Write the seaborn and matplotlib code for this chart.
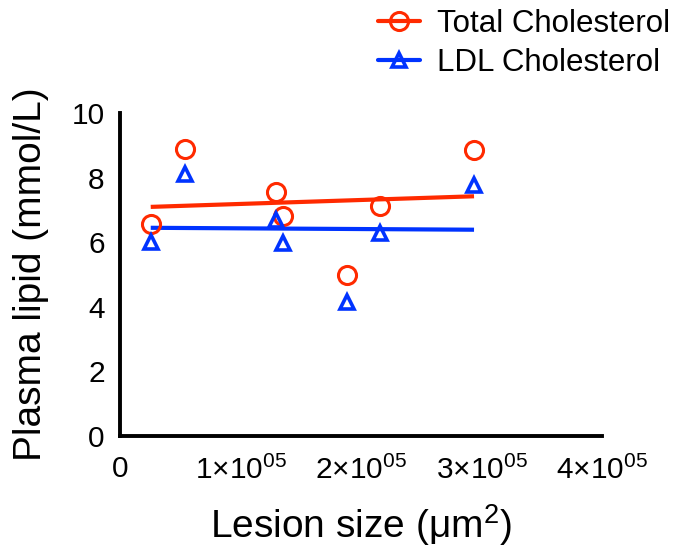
import matplotlib
matplotlib.use("Agg")
import matplotlib.pyplot as plt
import seaborn as sns
import numpy as np
import pandas as pd
from matplotlib.lines import Line2D

# ---- data ----
lesion_size = [25500, 53900, 129200, 135500, 188100, 215800, 293800]
total_chol = [6.57, 8.87, 7.54, 6.80, 4.97, 7.11, 8.85]
ldl_chol = [6.00, 8.10, 6.68, 5.97, 4.14, 6.28, 7.76]
series_names = ["Total Cholesterol", "LDL Cholesterol"]
x_ticks = [0, 100000, 200000, 300000, 400000]
x_tick_labels = ["0", r"$1{\times}10^{05}$", r"$2{\times}10^{05}$", r"$3{\times}10^{05}$", r"$4{\times}10^{05}$"]
y_ticks = [0, 2, 4, 6, 8, 10]
y_tick_labels = ["0", "2", "4", "6", "8", "10"]

df = pd.DataFrame({"x": lesion_size, "total": total_chol, "ldl": ldl_chol})

sns.set_style("white")
plt.rcParams["font.family"] = ["Liberation Sans", "DejaVu Sans"]
plt.rcParams["mathtext.fontset"] = "custom"
plt.rcParams["mathtext.rm"] = "Liberation Sans"
plt.rcParams["mathtext.it"] = "Liberation Sans:italic"
plt.rcParams["mathtext.default"] = "rm"
plt.rcParams["text.color"] = "black"
plt.rcParams["axes.labelcolor"] = "black"

red = "#FF2A00"
blue = "#0033FF"

fig = plt.figure(figsize=(6.75, 5.52), dpi=100)
ax = fig.add_axes([120/675, 1-436/552, 482/675, 323/552])

# regression lines
sns.regplot(data=df, x="x", y="total", ax=ax, scatter=False, ci=None, truncate=True,
            line_kws=dict(color=red, lw=3, solid_capstyle="butt"))
sns.regplot(data=df, x="x", y="ldl", ax=ax, scatter=False, ci=None, truncate=True,
            line_kws=dict(color=blue, lw=3, solid_capstyle="butt"))

# markers
ax.plot(df["x"], df["total"], linestyle="none", marker="o", markersize=13,
        markerfacecolor="none", markeredgecolor=red, markeredgewidth=2.2, clip_on=False, zorder=4)
ax.plot(df["x"], df["ldl"], linestyle="none", marker="^", markersize=10,
        markerfacecolor="none", markeredgecolor=blue, markeredgewidth=2.6, clip_on=False, zorder=4)

ax.set_xlim(0, 400000)
ax.set_ylim(0, 10)
ax.set_xticks(x_ticks)
ax.set_xticklabels(x_tick_labels)
ax.set_yticks(y_ticks)
ax.set_yticklabels(y_tick_labels)

for s in ["top", "right"]:
    ax.spines[s].set_visible(False)
for s in ["left", "bottom"]:
    ax.spines[s].set_linewidth(2.8)
    ax.spines[s].set_color("black")
ax.tick_params(axis="both", which="major", direction="out", length=8, width=2.8,
               labelsize=21.5, colors="black", labelcolor="black", pad=3)
ax.tick_params(axis="x", pad=6)

ax.set_xlabel(r"Lesion size ($\mu$m$^2$)", fontsize=28, labelpad=13)
ax.set_ylabel("Plasma lipid (mmol/L)", fontsize=28, labelpad=16)

handles = [
    Line2D([0], [0], color=red, lw=3, marker="o", markersize=13, markerfacecolor="none",
           markeredgecolor=red, markeredgewidth=2.2),
    Line2D([0], [0], color=blue, lw=3, marker="^", markersize=10, markerfacecolor="none",
           markeredgecolor=blue, markeredgewidth=2.6),
]
fig.legend(handles, series_names, loc="upper left", bbox_to_anchor=(378/675, 0.984),
           frameon=False, fontsize=22.5, handlelength=1.35, handletextpad=0.55,
           labelspacing=0.30, borderpad=0, borderaxespad=0)

fig.savefig("out.png", dpi=100)
